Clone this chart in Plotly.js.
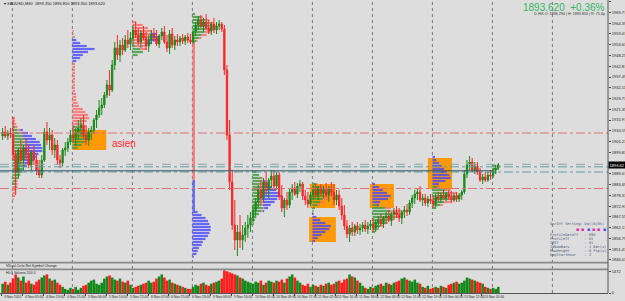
<!DOCTYPE html>
<html><head><meta charset="utf-8">
<script src="https://cdn.plot.ly/plotly-3.0.1.min.js"></script>
<style>html,body{margin:0;padding:0;background:#dddddd;}#chart{width:625px;height:301px;}</style>
</head><body><div id="chart"></div>
<script>
// ---- hourly candles (x positions are M30 bar slots) ----
const openP = [1908,1910,1908,1909.5,1909,1898.5,1890,1901,1896,1902,
1898.5,1893.5,1900,1896,1891,1888.5,1896,1910,1906,1908.5,
1901,1903.5,1896,1894.5,1901,1902,1905,1908.5,1907,1910,
1912,1913.5,1908.5,1906,1910,1911,1916,1918.5,1922,1923.5,
1928.5,1933.5,1931,1943.5,1952,1948.5,1953.5,1951,1956,1954,
1957,1961,1958.5,1955,1959.5,1957,1953,1956,1959,1957,
1954,1958,1960,1955,1952,1959,1953.5,1956,1955,1957,
1955.5,1957.5,1956,1955,1960,1963.5,1966,1963,1965,1962,
1960.5,1964,1961,1963,1964,1961.5,1941,1908.5,1885,1863.5,
1856,1860,1856,1858.5,1862,1863.5,1867,1871,1875,1881,
1877,1885,1881,1886,1888,1883,1888.5,1878,1872,1876,
1873.5,1880,1882,1879,1883,1884,1878,1876,1874,1878.5,
1881,1878.5,1882,1879.5,1881,1878.5,1882,1880,1876,1878.5,
1873,1868.5,1863,1859,1862,1860,1863,1861,1862,1863.5,
1861.5,1863,1864,1862,1865,1866,1864,1867,1868,1866,
1869,1870,1868.5,1867,1870,1871,1870,1874.5,1877,1879,
1880,1876,1877,1874.5,1876.5,1875.5,1874,1877.5,1876.5,1878.5,
1877,1879,1877.5,1876,1878,1876.5,1878.5,1880,1889,1893.5,
1895,1891,1893,1890,1886,1887.5,1886,1888.5,1888,1891,
1892];
const highP = [1912,1913,1911,1912,1917.5,1901,1902,1906,1903.5,1907,
1903.5,1901,1903.5,1898.5,1896,1898.5,1912,1915,1912,1911,
1907,1906,1898.5,1902,1905,1907,1911,1913.5,1912,1916,
1917,1918.5,1913.5,1912,1913,1917,1921,1926,1927,1930,
1936,1941,1946,1955,1958.5,1956,1957,1958.5,1961,1960,
1963.5,1965,1962,1961,1963,1960,1958.5,1961,1962,1961,
1959,1962,1963,1958.5,1961,1962,1958,1959,1958,1959,
1958.5,1959.5,1959,1961,1965,1968,1968.5,1967,1969,1966,
1965,1967,1965,1966,1965,1963.5,1943.5,1916,1891,1876,
1863.5,1868.5,1863.5,1865,1868.5,1870,1873.5,1877,1883.5,1886,
1887,1890,1887,1891,1891,1890,1890,1883.5,1877,1880,
1882,1884,1885,1884.5,1886,1885,1881,1880,1880,1883.5,
1884,1883,1884,1883,1884.5,1883,1885,1884,1881,1881,
1877,1873.5,1866,1863.5,1865,1864,1865,1864,1865,1866,
1865,1866,1867,1866,1868,1869,1868,1870,1871,1870,
1872,1873,1872,1871,1873,1874,1876,1878.5,1881,1882,
1883,1879,1879,1878,1879,1878,1879,1880,1879.5,1881,
1880,1881,1880.5,1879.5,1880,1879.5,1881,1891,1896,1898,
1897,1895,1895,1892,1889,1890,1890,1891,1892,1893.5,
1894.5];
const lowP = [1906,1907,1906,1907,1896,1878.5,1887,1893.5,1891,1896,
1892,1891,1893.5,1888.5,1887,1887,1895,1903.5,1901,1898.5,
1897,1893.5,1892,1893,1898,1900,1903.5,1905,1903,1906,
1908.5,1907,1903.5,1903,1906,1909,1912,1917,1918.5,1922,
1927,1928,1930,1941,1946,1945,1948.5,1950,1952,1951,
1953.5,1957,1953.5,1952,1956,1951,1950,1954,1955,1953,
1952,1956,1954,1950,1949,1952,1951,1953,1953,1954,
1953.5,1954.5,1954,1954,1958,1961,1962,1960,1961,1959,
1958.5,1959.5,1959,1961,1960,1938.5,1906,1881,1861,1851,
1848,1852,1851,1855,1857,1860,1863.5,1868,1872,1873.5,
1875,1878.5,1877,1882,1881,1881,1876,1870,1867.5,1871,
1872,1876,1878,1877,1880,1876,1873.5,1872,1873,1876,
1877,1876,1878,1877,1877.5,1875,1878,1873.5,1873.5,1871,
1866,1861,1857,1855,1858,1858,1859,1858.5,1860,1860,
1859,1861,1860,1860,1862,1863,1862,1864,1865,1863,
1866,1867,1865,1864,1867,1868,1868.5,1872,1874,1876,
1875,1873,1873,1872.5,1874,1872,1872.5,1875,1874.5,1876,
1875.5,1876,1874.5,1875,1875,1875,1876,1879,1887,1891,
1890,1889,1888.5,1885,1884,1885,1885,1886,1887,1889,
1891];
const closeP = [1910,1908,1909.5,1909,1898.5,1890,1901,1896,1902,1898.5,
1893.5,1900,1896,1891,1888.5,1896,1910,1906,1908.5,1901,
1903.5,1896,1894.5,1901,1902,1905,1908.5,1907,1910,1912,
1913.5,1908.5,1906,1910,1911,1916,1918.5,1922,1923.5,1928.5,
1933.5,1931,1943.5,1952,1948.5,1953.5,1951,1956,1954,1957,
1961,1958.5,1955,1959.5,1957,1953,1956,1959,1957,1954,
1958,1960,1955,1952,1959,1953.5,1956,1955,1957,1955.5,
1957.5,1956,1955,1960,1963.5,1966,1963,1965,1962,1960.5,
1964,1961,1963,1964,1961.5,1941,1908.5,1885,1863.5,1856,
1860,1856,1858.5,1862,1863.5,1867,1871,1875,1881,1877,
1885,1881,1886,1888,1883,1888.5,1878,1872,1876,1873.5,
1880,1882,1879,1883,1884,1878,1876,1874,1878.5,1881,
1878.5,1882,1879.5,1881,1878.5,1882,1880,1876,1878.5,1873,
1868.5,1863,1859,1862,1860,1863,1861,1862,1863.5,1861.5,
1863,1864,1862,1865,1866,1864,1867,1868,1866,1869,
1870,1868.5,1867,1870,1871,1870,1874.5,1877,1879,1880,
1876,1877,1874.5,1876.5,1875.5,1874,1877.5,1876.5,1878.5,1877,
1879,1877.5,1876,1878,1876.5,1878.5,1880,1889,1893.5,1895,
1891,1893,1890,1886,1887.5,1886,1888.5,1888,1891,1892,
1893.62];
const volume = [630,770,560,700,980,1260,1050,840,1120,700,
840,630,560,770,910,1050,1190,1260,980,840,
910,700,560,420,280,210,350,280,420,210,
350,490,560,700,840,910,630,560,700,980,
1120,1190,1050,910,840,980,770,700,840,560,
350,420,490,560,630,700,840,700,770,980,
1120,1260,1050,840,910,700,630,560,490,420,
350,280,280,420,560,490,630,700,560,490,
630,700,770,840,980,1540,1470,1400,1330,1260,
1190,1050,980,840,770,700,630,770,700,840,
560,700,840,770,700,840,770,910,700,980,
1120,1260,1050,840,700,560,490,630,420,560,
490,420,560,490,630,700,560,630,770,840,
700,910,980,1260,1120,1050,840,700,490,350,
280,420,350,490,560,630,490,700,630,560,
700,770,840,980,1050,910,840,770,910,700,
630,420,350,490,280,350,420,350,490,420,
350,560,630,700,770,630,700,840,1050,980,
910,840,770,700,630,420,350,280,350,280,
420];

// ---- axis labels ----
const timeLabelBars = [0,16,32,48,64,80,96,112,128,144,160,176,192,208,224,240,256,272,288,304,320,336,352,368];
const timeLabels = ['3 Nov 2020','4 Nov 05:00','4 Nov 13:00','4 Nov 21:00','5 Nov 06:00','5 Nov 14:00','5 Nov 22:00','6 Nov 07:00','6 Nov 15:00','6 Nov 23:00','9 Nov 08:00','9 Nov 16:00','10 Nov 01:00','10 Nov 09:00','10 Nov 17:00','11 Nov 02:00','11 Nov 10:00','11 Nov 18:00','12 Nov 03:00','12 Nov 11:00','12 Nov 19:00','13 Nov 04:00','13 Nov 12:00','13 Nov 20:00'];
const priceTicks = [1975.15,1969.77,1964.39,1959.01,1953.63,1948.25,1942.87,1937.49,1932.11,1926.73,1921.35,1915.97,1910.59,1905.21,1899.83,1889.07,1883.69,1878.31,1872.93,1867.55,1862.17,1856.79,1851.41,1846.03];
const volumeTicks = [0,1472];
const dayStartBars = [8,54,100,146,192,238,284,330,376,422];

// ---- market profiles (TPO counts per row) ----
const p1Levels=[1917,1915.5,1914,1912.5,1911,1909.5,1908,1906.5,1905,1903.5,1902,1900.5,1899,1897.5,1896,1894.5,1893,1891.5,1890,1888.5,1887,1885.5,1884,1882.5,1881,1879.5,1878,1876.5];
const p1Green=[0,0,0,2,4,6,8,9,10,10,9,10,9,8,8,9,8,8,7,6,5,3,2,1,0,0,0,0];
const p1Red=[2,2,3,2,2,1,0,0,0,0,0,0,0,0,0,0,0,0,0,0,0,1,2,3,3,2,2,1];
const p1Blue=[0,0,0,0,2,5,7,9,11,12,14,13,11,10,8,5,3,0,0,0,0,0,0,0,0,0,0,0];
const p2Levels=[1960.5,1959,1957.5,1956,1954.5,1953,1951.5,1950,1948.5,1947,1945.5,1944,1942.5,1941,1939.5,1938,1936.5,1935,1933.5,1932,1930.5,1929,1927.5,1926,1924.5,1923,1921.5,1920,1918.5,1917,1915.5,1914,1912.5,1911,1909.5,1908,1906.5,1905,1903.5,1902];
const p2Green=[0,0,1,0,0,0,0,0,0,0,0,0,0,0,0,0,0,0,0,0,0,0,0,0,0,0,0,0,0,0,0,0,4,10,13,14,12,10,7,4];
const p2Red=[1,1,1,0,0,0,0,0,0,0,0,2,2,2,2,2,2,2,2,2,2,3,3,3,4,5,8,10,12,13,11,9,6,0,0,0,0,0,0,0];
const p2Blue=[0,0,0,3,6,11,17,12,8,6,3,0,0,0,0,0,0,0,0,0,0,0,0,0,0,0,0,0,0,0,0,0,0,0,0,0,0,0,0,0];
const p3Levels=[1965,1963.5,1962,1960.5,1959,1957.5,1956,1954.5,1953,1951.5,1950,1948.5];
const p3Green=[0,0,0,0,0,0,0,0,2,6,8,4];
const p3Red=[3,8,12,15,14,13,12,10,8,5,0,0];
const p3Blue=[0,0,0,0,4,7,8,5,0,0,0,0];
const p4aLevels=[1969,1967.5,1966,1964.5,1963,1961.5,1960,1958.5,1957,1955.5];
const p4aGreen=[2,6,10,12,12,10,9,7,5,3];
const p4aRed=[0,2,3,4,6,6,5,4,2,1];
const p4aBlue=[0,0,0,0,0,0,0,0,0,0];
const p4bLevels=[1870,1868.5,1867,1865.5,1864,1862.5,1861,1859.5,1858,1856.5,1855,1853.5,1852,1850.5,1849,1847.5];
const p4bGreen=[0,0,0,0,0,0,0,0,0,0,0,0,0,0,0,0];
const p4bRed=[0,0,0,0,0,0,0,0,0,0,0,0,0,0,0,0];
const p4bBlue=[4,7,10,12,13,14,14,13,12,10,8,7,5,4,3,1];
const p5Levels=[1890,1888.5,1887,1885.5,1884,1882.5,1881,1879.5,1878,1876.5,1875,1873.5,1872,1870.5,1869,1867.5,1866];
const p5Green=[3,5,7,7,6,6,5,6,5,6,6,7,8,7,5,3,2];
const p5Red=[0,0,1,1,2,1,2,1,2,1,2,1,1,1,0,0,0];
const p5Blue=[0,0,0,2,5,8,11,13,15,12,9,6,3,1,0,0,0];
const p6Levels=[1884,1882.5,1881,1879.5,1878,1876.5,1875,1873.5,1872,1870.5,1869,1867.5,1866,1864.5,1863,1861.5,1860,1858.5,1857,1855.5];
const p6Green=[3,6,8,9,9,8,6,4,2,1,0,0,0,0,0,0,0,0,0,0];
const p6Red=[1,3,5,6,6,5,3,2,0,0,0,0,0,0,0,0,0,0,0,0];
const p6Blue=[0,0,0,0,0,0,0,0,0,0,1,3,6,10,14,13,10,7,4,2];
const p7Levels=[1884,1882.5,1881,1879.5,1878,1876.5,1875,1873.5,1872,1870.5,1869,1867.5,1866,1864.5,1863,1861.5,1860];
const p7Green=[0,0,0,0,0,0,0,3,10,14,14,13,10,8,6,4,2];
const p7Red=[0,0,0,0,0,0,0,0,4,8,10,8,6,4,2,1,0];
const p7Blue=[2,5,8,11,14,12,6,2,0,0,0,0,0,0,0,0,0];
const p8Levels=[1897.5,1896,1894.5,1893,1891.5,1890,1888.5,1887,1885.5,1884,1882.5,1881,1879.5,1878,1876.5,1875,1873.5,1872];
const p8Green=[0,0,0,0,0,0,0,0,0,0,4,10,13,14,12,9,6,3];
const p8Red=[0,0,0,0,0,0,0,0,0,0,2,4,6,8,7,5,2,0];
const p8Blue=[2,3,5,7,9,11,13,14,10,5,0,0,0,0,0,0,0,0];
const p9Levels=[1893,1891.5,1890];
const p9Green=[3,4,3];
const p9Red=[0,0,0];
const p9Blue=[0,0,0];
const profileStarts=[8,54,100,146,146,192,238,284,330,376];
// thin single-TPO strips of the Nov 9 profile
const stripStart=[146,146];
const stripTop=[1955,1886];
const stripBottom=[1886,1870.5];
const stripCount=[2,2];

// ---- session boxes ----
const boxStart=[54,236,235.5,282,326.5];
const boxEnd=[80,255.5,256,300.5,345];
const boxTop=[1911,1884,1867.5,1884,1897];
const boxBottom=[1901,1872,1855,1872,1881.5];

// ---- horizontal levels ----
const levelPrices=[1909.5,1893.85,1892.6,1890.0,1890.6,1881.75];
const levelEndBars=[464.6,464.6,464.6,464.6,376,464.6];

// ---------------- build ----------------
const C_UP='#1a8a1a', C_DN='#ff2424';
const levelStyles=[{c:'#e07272',d:'dashdot'},{c:'#8fa6a6',d:'dash'},{c:'#5e9fa0',d:'dashdot'},{c:'#5e9fa0',d:'dashdot'},{c:'#34505e',d:'solid'},{c:'#e07272',d:'dashdot'}];
const stripColors=['#ff6a6a','#5050ff'];

const xs = closeP.map((_,i)=>2*i+0.5);
const profTable=[
 [p1Levels,p1Green,p1Red,p1Blue],[p2Levels,p2Green,p2Red,p2Blue],[p3Levels,p3Green,p3Red,p3Blue],
 [p4aLevels,p4aGreen,p4aRed,p4aBlue],[p4bLevels,p4bGreen,p4bRed,p4bBlue],[p5Levels,p5Green,p5Red,p5Blue],
 [p6Levels,p6Green,p6Red,p6Blue],[p7Levels,p7Green,p7Red,p7Blue],[p8Levels,p8Green,p8Red,p8Blue],[p9Levels,p9Green,p9Red,p9Blue]];
const seg={g:{y:[],x:[],b:[]},r:{y:[],x:[],b:[]},bl:{y:[],x:[],b:[]}};
profTable.forEach((p,k)=>{
  const s=profileStarts[k];
  p[0].forEach((lev,i)=>{
    const g=p[1][i]||0, r=p[2][i]||0, b=p[3][i]||0;
    if(g){seg.g.y.push(lev);seg.g.x.push(g);seg.g.b.push(s);}
    if(r){seg.r.y.push(lev);seg.r.x.push(r);seg.r.b.push(s+g);}
    if(b){seg.bl.y.push(lev);seg.bl.x.push(b);seg.bl.b.push(s+g+r);}
  });
});
function profTrace(d,color){
  return {type:'bar',orientation:'h',x:d.x,y:d.y,base:d.b,width:1.1,xaxis:'x',yaxis:'y',
    marker:{color:color,line:{width:0}},opacity:0.8,hoverinfo:'skip'};
}
const traces=[];
traces.push({type:'bar',orientation:'h',x:stripCount,base:stripStart,
  y:stripTop.map((t,i)=>(t+stripBottom[i])/2),width:stripTop.map((t,i)=>t-stripBottom[i]),
  marker:{color:stripColors,line:{width:0}},opacity:0.8,xaxis:'x',yaxis:'y',hoverinfo:'skip'});
traces.push(profTrace(seg.g,'#3d9a3d'));
traces.push(profTrace(seg.r,'#ff6a6a'));
traces.push(profTrace(seg.bl,'#4848ff'));
traces.push({type:'candlestick',x:xs,open:openP,high:highP,low:lowP,close:closeP,xaxis:'x',yaxis:'y',
  whiskerwidth:0,
  increasing:{line:{color:C_UP,width:1},fillcolor:C_UP},
  decreasing:{line:{color:C_DN,width:1},fillcolor:C_DN},hoverinfo:'skip'});
traces.push({type:'bar',x:xs,y:volume,width:1.95,xaxis:'x',yaxis:'y3',
  marker:{color:closeP.map((c,i)=>c>=openP[i]?'#12881a':'#ff1c1c'),line:{width:0}},hoverinfo:'skip'});

const H=293, W=608;
const py=v=>(H-v)/H, px=v=>v/W;
const shapes=[];
dayStartBars.forEach(b=>shapes.push({type:'line',xref:'x',yref:'paper',x0:b,x1:b,y0:0,y1:1,layer:'below',
  line:{color:'#7a7a7a',width:1,dash:'dot'}}));
boxStart.forEach((s,i)=>shapes.push({type:'rect',xref:'x',yref:'y',x0:s,x1:boxEnd[i],y0:boxBottom[i],y1:boxTop[i],
  layer:'below',fillcolor:'#ff9a06',line:{width:0}}));
levelPrices.forEach((p,i)=>shapes.push({type:'line',xref:'x',yref:'y',x0:-1.5,x1:levelEndBars[i],y0:p,y1:p,
  line:{color:levelStyles[i].c,width:1,dash:levelStyles[i].d}}));
// panel separators and right axis line
shapes.push({type:'rect',xref:'paper',yref:'paper',x0:0,x1:1,y0:py(263.6),y1:py(261.8),fillcolor:'#8a8a8a',line:{width:0}});
shapes.push({type:'rect',xref:'paper',yref:'paper',x0:0,x1:1,y0:py(270.2),y1:py(268.4),fillcolor:'#8a8a8a',line:{width:0}});
shapes.push({type:'line',xref:'paper',yref:'paper',x0:1,x1:1,y0:0,y1:1,line:{color:'#555',width:1}});

const NB='\u00a0';
const ann=[];
const A=(o)=>ann.push(Object.assign({showarrow:false,xanchor:'left',yanchor:'middle'},o));
A({xref:'paper',yref:'paper',x:px(2),y:py(3.5),text:'▾ XAUUSD,M30'+NB+NB+'1893.350 1893.850 1893.350 1893.620',font:{size:4,color:'#111'}});
A({xref:'paper',yref:'paper',x:px(607),y:py(7.5),xanchor:'right',text:'1893.620'+NB+NB+'+0.36%',font:{size:10,color:'#33b566'}});
A({xref:'paper',yref:'paper',x:px(607),y:py(14.5),xanchor:'right',text:'D-HI/LO: 1886.290 | H: 1893.850 | R: 75.6p',font:{size:3.7,color:'#333'}});
A({xref:'x',yref:'y',x:83,y:1904.5,text:'asien',font:{size:10,color:'#ff2a2a'}});
A({xref:'paper',yref:'paper',x:px(4),y:py(265.6),text:'VDual-Ciclo Ret Symbol Change',font:{size:3.5,color:'#222'}});
A({xref:'paper',yref:'paper',x:px(4),y:py(272.6),text:'HLC Volume 200 0',font:{size:3.5,color:'#222'}});
A({xref:'paper',yref:'y',x:1,y:1893.62,text:'1893.62',bgcolor:'#000',borderpad:0.6,font:{size:4,color:'#fff'}});
// time axis labels, left-aligned at their bar like the terminal draws them
timeLabelBars.forEach((b,i)=>A({xref:'x',yref:'paper',x:b,y:py(296.6),text:timeLabels[i],xshift:0.5,font:{size:3.4,color:'#222'}}));
const settings=[['On/Off Setting: Dq(|N|0%)',224],['ProfileDataTf   : M30',235],['ProfileTf       : D1',239],['IBTF            : H1',243],['IBNumBars       : 1 Bar(s)',247],['RowHeight       : 0 Pip(s)',251],['DayStartHour    : 2',255]];
settings.forEach(s=>A({xref:'paper',yref:'paper',x:px(548),y:py(s[1]),text:s[0].replace(/ /g,NB),font:{family:'DejaVu Sans Mono, monospace',size:3.6,color:'#4a5a7a'}}));
const sqX=[577.3,582.7,588,593.3,598.7,604], sqC=['#f0229c','#f0229c','#3450ff','#f0229c','#f0229c','#3450ff'];
sqX.forEach((x,i)=>A({xref:'paper',yref:'paper',x:px(x),y:py(229),xanchor:'center',text:'■',font:{size:5,color:sqC[i]}}));

const layout={width:625,height:301,margin:{l:0,r:17,t:0,b:8,pad:0},
  paper_bgcolor:'#dddddd',plot_bgcolor:'#dddddd',showlegend:false,barmode:'overlay',
  font:{family:'Liberation Sans, Arial, sans-serif',size:4,color:'#222'},
  xaxis:{range:[-1.5,464.6],anchor:'y3',tickvals:timeLabelBars,showticklabels:false,ticks:'outside',ticklen:2,tickcolor:'#444',
    showgrid:false,zeroline:false,showline:true,linecolor:'#555',linewidth:1,
    rangeslider:{visible:false},fixedrange:true},
  yaxis:{domain:[py(262),1],range:[1845,1976],side:'right',anchor:'x',tickvals:priceTicks,ticktext:priceTicks.map(v=>v.toFixed(2)),
    ticks:'outside',ticklen:2,tickcolor:'#444',showgrid:false,zeroline:false,showline:false,tickfont:{size:4,color:'#222'},fixedrange:true},
  yaxis3:{domain:[0,py(270)],range:[0,1560],side:'right',anchor:'x',tickvals:volumeTicks,ticktext:volumeTicks.map(String),
    ticks:'outside',ticklen:2,tickcolor:'#444',showgrid:false,zeroline:false,showline:false,tickfont:{size:4,color:'#222'},fixedrange:true},
  shapes:shapes,annotations:ann};
Plotly.newPlot('chart',traces,layout,{staticPlot:true,displayModeBar:false});
</script></body></html>
